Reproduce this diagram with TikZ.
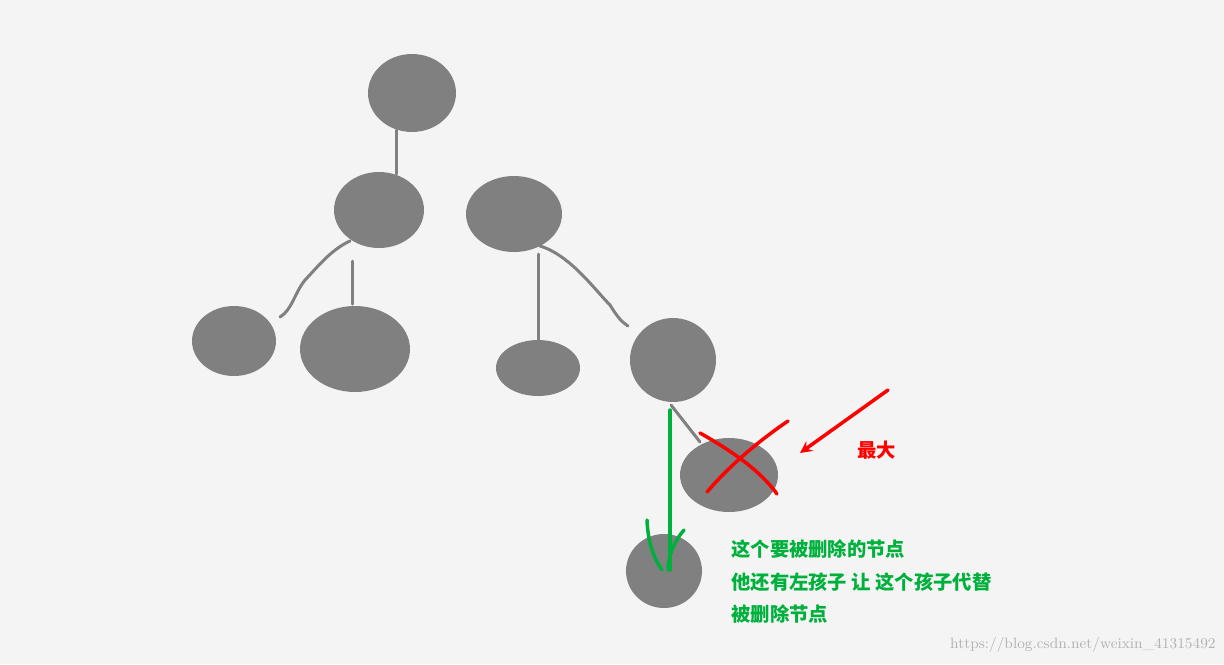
\documentclass[tikz,border=0pt]{standalone}
\usepackage{fontspec}
\newfontfamily\cjk{Noto Sans CJK SC}
\usetikzlibrary{shapes.geometric}
\definecolor{bg}{HTML}{F4F4F4}
\definecolor{nd}{HTML}{808080}
\definecolor{gr}{HTML}{00B03C}
\begin{document}
\begin{tikzpicture}[x=0.02cm,y=-0.02cm,
  nodeb/.style={ellipse,fill=nd,inner sep=0pt},
  edge/.style={draw=nd,line width=1.2mm*0.5,line cap=round},
  redl/.style={draw=red,line width=0.07cm,line cap=round},
  grl/.style={draw=gr,line width=0.07cm,line cap=round},
  lbl/.style={font=\cjk\bfseries\fontsize{11pt}{15pt}\selectfont,anchor=west,inner sep=0pt}]
\fill[bg] (0,0) rectangle (1224,664);
\useasboundingbox (0,0) rectangle (1224,664);
\node[nodeb,minimum width=1.76cm,minimum height=1.56cm] (r) at (412,93) {};
\node[nodeb,minimum width=1.8cm,minimum height=1.52cm] (a) at (379,210) {};
\node[nodeb,minimum width=1.92cm,minimum height=1.52cm] (b) at (514,214) {};
\node[nodeb,minimum width=1.68cm,minimum height=1.4cm] (c) at (234,341) {};
\node[nodeb,minimum width=2.2cm,minimum height=1.72cm] (d) at (355,349) {};
\node[nodeb,minimum width=1.68cm,minimum height=1.12cm] (e) at (538,368) {};
\node[nodeb,minimum width=1.72cm,minimum height=1.68cm] (f) at (673,360) {};
\node[nodeb,minimum width=1.96cm,minimum height=1.48cm] (g) at (729,475) {};
\node[nodeb,minimum width=1.52cm,minimum height=1.48cm] (h) at (664,571) {};
\coordinate (a1) at (396,130); \coordinate (a2) at (396,174);
\draw[edge] (a1) -- (a2);
\draw[edge] (350,241) .. controls (330,250) and (315,270) .. (305,280) .. controls (295,292) and (292,310) .. (280,317);
\draw[edge] (352,261) -- (352,304);
\draw[edge] (538,254) -- (538,340);
\draw[edge] (540,246) .. controls (570,255) and (595,290) .. (610,305) .. controls (618,318) and (622,322) .. (628,326);
\draw[edge] (671,405) -- (700,442);
\draw[grl] (670,410) -- (670,570);
\draw[grl] (647,520) .. controls (648,545) and (655,560) .. (662,570);
\draw[grl] (684,530) .. controls (675,540) and (668,555) .. (668,570);
\draw[redl] (700,433) .. controls (730,450) and (760,470) .. (777,494);
\draw[redl] (788,421) .. controls (760,440) and (730,465) .. (707,492);
\coordinate (ra) at (888,390); \coordinate (rb) at (800,453);
\draw[redl,-stealth] (ra) -- (rb);
\node[lbl,text=red] (t0) at (857,450) {最大};
\node[lbl,text=gr] (t1) at (731,549) {这个要被删除的节点};
\node[lbl,text=gr] (t2) at (731,582) {他还有左孩子 让 这个孩子代替};
\node[lbl,text=gr] (t3) at (731,614) {被删除节点};
\node[anchor=east,text=gray!60,font=\fontsize{8.5pt}{10pt}\selectfont,inner sep=0pt] (w) at (1216,645) {https://blog.csdn.net/weixin\_41315492};
\end{tikzpicture}
\end{document}
